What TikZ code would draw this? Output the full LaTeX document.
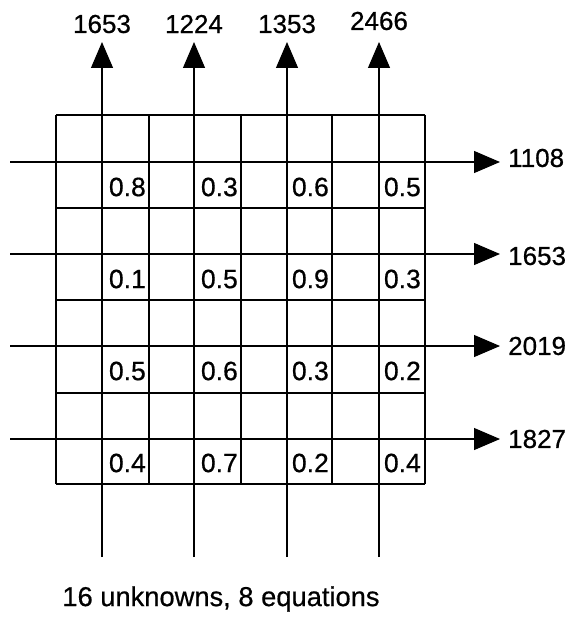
\documentclass[tikz,border=0pt]{standalone}
\usepackage{fontspec}
\setmainfont{Liberation Sans}[FakeBold=0.6]
\usetikzlibrary{arrows.meta}
\tikzset{
  gridline/.style={line width=1.5pt, black},
  flow/.style={line width=1.1pt, black, -{Triangle[length=26pt,width=22pt]}},
  lbl/.style={inner sep=0pt, font=\fontsize{26}{31}\selectfont},
  val/.style={inner sep=0pt, anchor=east, font=\fontsize{26.5}{31}\selectfont},
  captext/.style={inner sep=0pt, font=\fontsize{27.3}{32}\selectfont}
}
\begin{document}
\begin{tikzpicture}[x=1pt,y=-1pt]
\useasboundingbox (0,0) rectangle (570,623);
% grid
\foreach \cx in {56,149,241,332,425} \draw[gridline] (\cx,115) -- (\cx,484);
\foreach \ry in {115,208,300,393,484} \draw[gridline] (56,\ry) -- (425,\ry);
% vertical rays
\foreach \i/\vx/\txt/\ty in {1/102/1653/24,2/194/1224/24,3/287/1353/24,4/379/2466/21}{
  \coordinate (vb\i) at (\vx,557);
  \coordinate (vt\i) at (\vx,42);
  \draw[flow] (vb\i) -- (vt\i);
  \node[lbl] (top\i) at (\vx,\ty) {\txt};
}
% horizontal rays
\foreach \i/\hy/\ly/\txt in {1/162/158/1108,2/254/256/1653,3/346/346/2019,4/439/439/1827}{
  \coordinate (hb\i) at (10,\hy);
  \coordinate (ht\i) at (500,\hy);
  \draw[flow] (hb\i) -- (ht\i);
  \node[lbl, anchor=west] (right\i) at (508,\ly) {\txt};
}
% cell values
\foreach \r/\yy/\a/\b/\c/\d in {1/187/0.8/0.3/0.6/0.5, 2/279/0.1/0.5/0.9/0.3, 3/371/0.5/0.6/0.3/0.2, 4/463/0.4/0.7/0.2/0.4}{
  \node[val] (v\r a) at (146,\yy) {\a};
  \node[val] (v\r b) at (238,\yy) {\b};
  \node[val] (v\r c) at (329,\yy) {\c};
  \node[val] (v\r d) at (421,\yy) {\d};
}
\node[captext] (caption) at (221,599) {16 unknowns, 8 equations};
\end{tikzpicture}
\end{document}
